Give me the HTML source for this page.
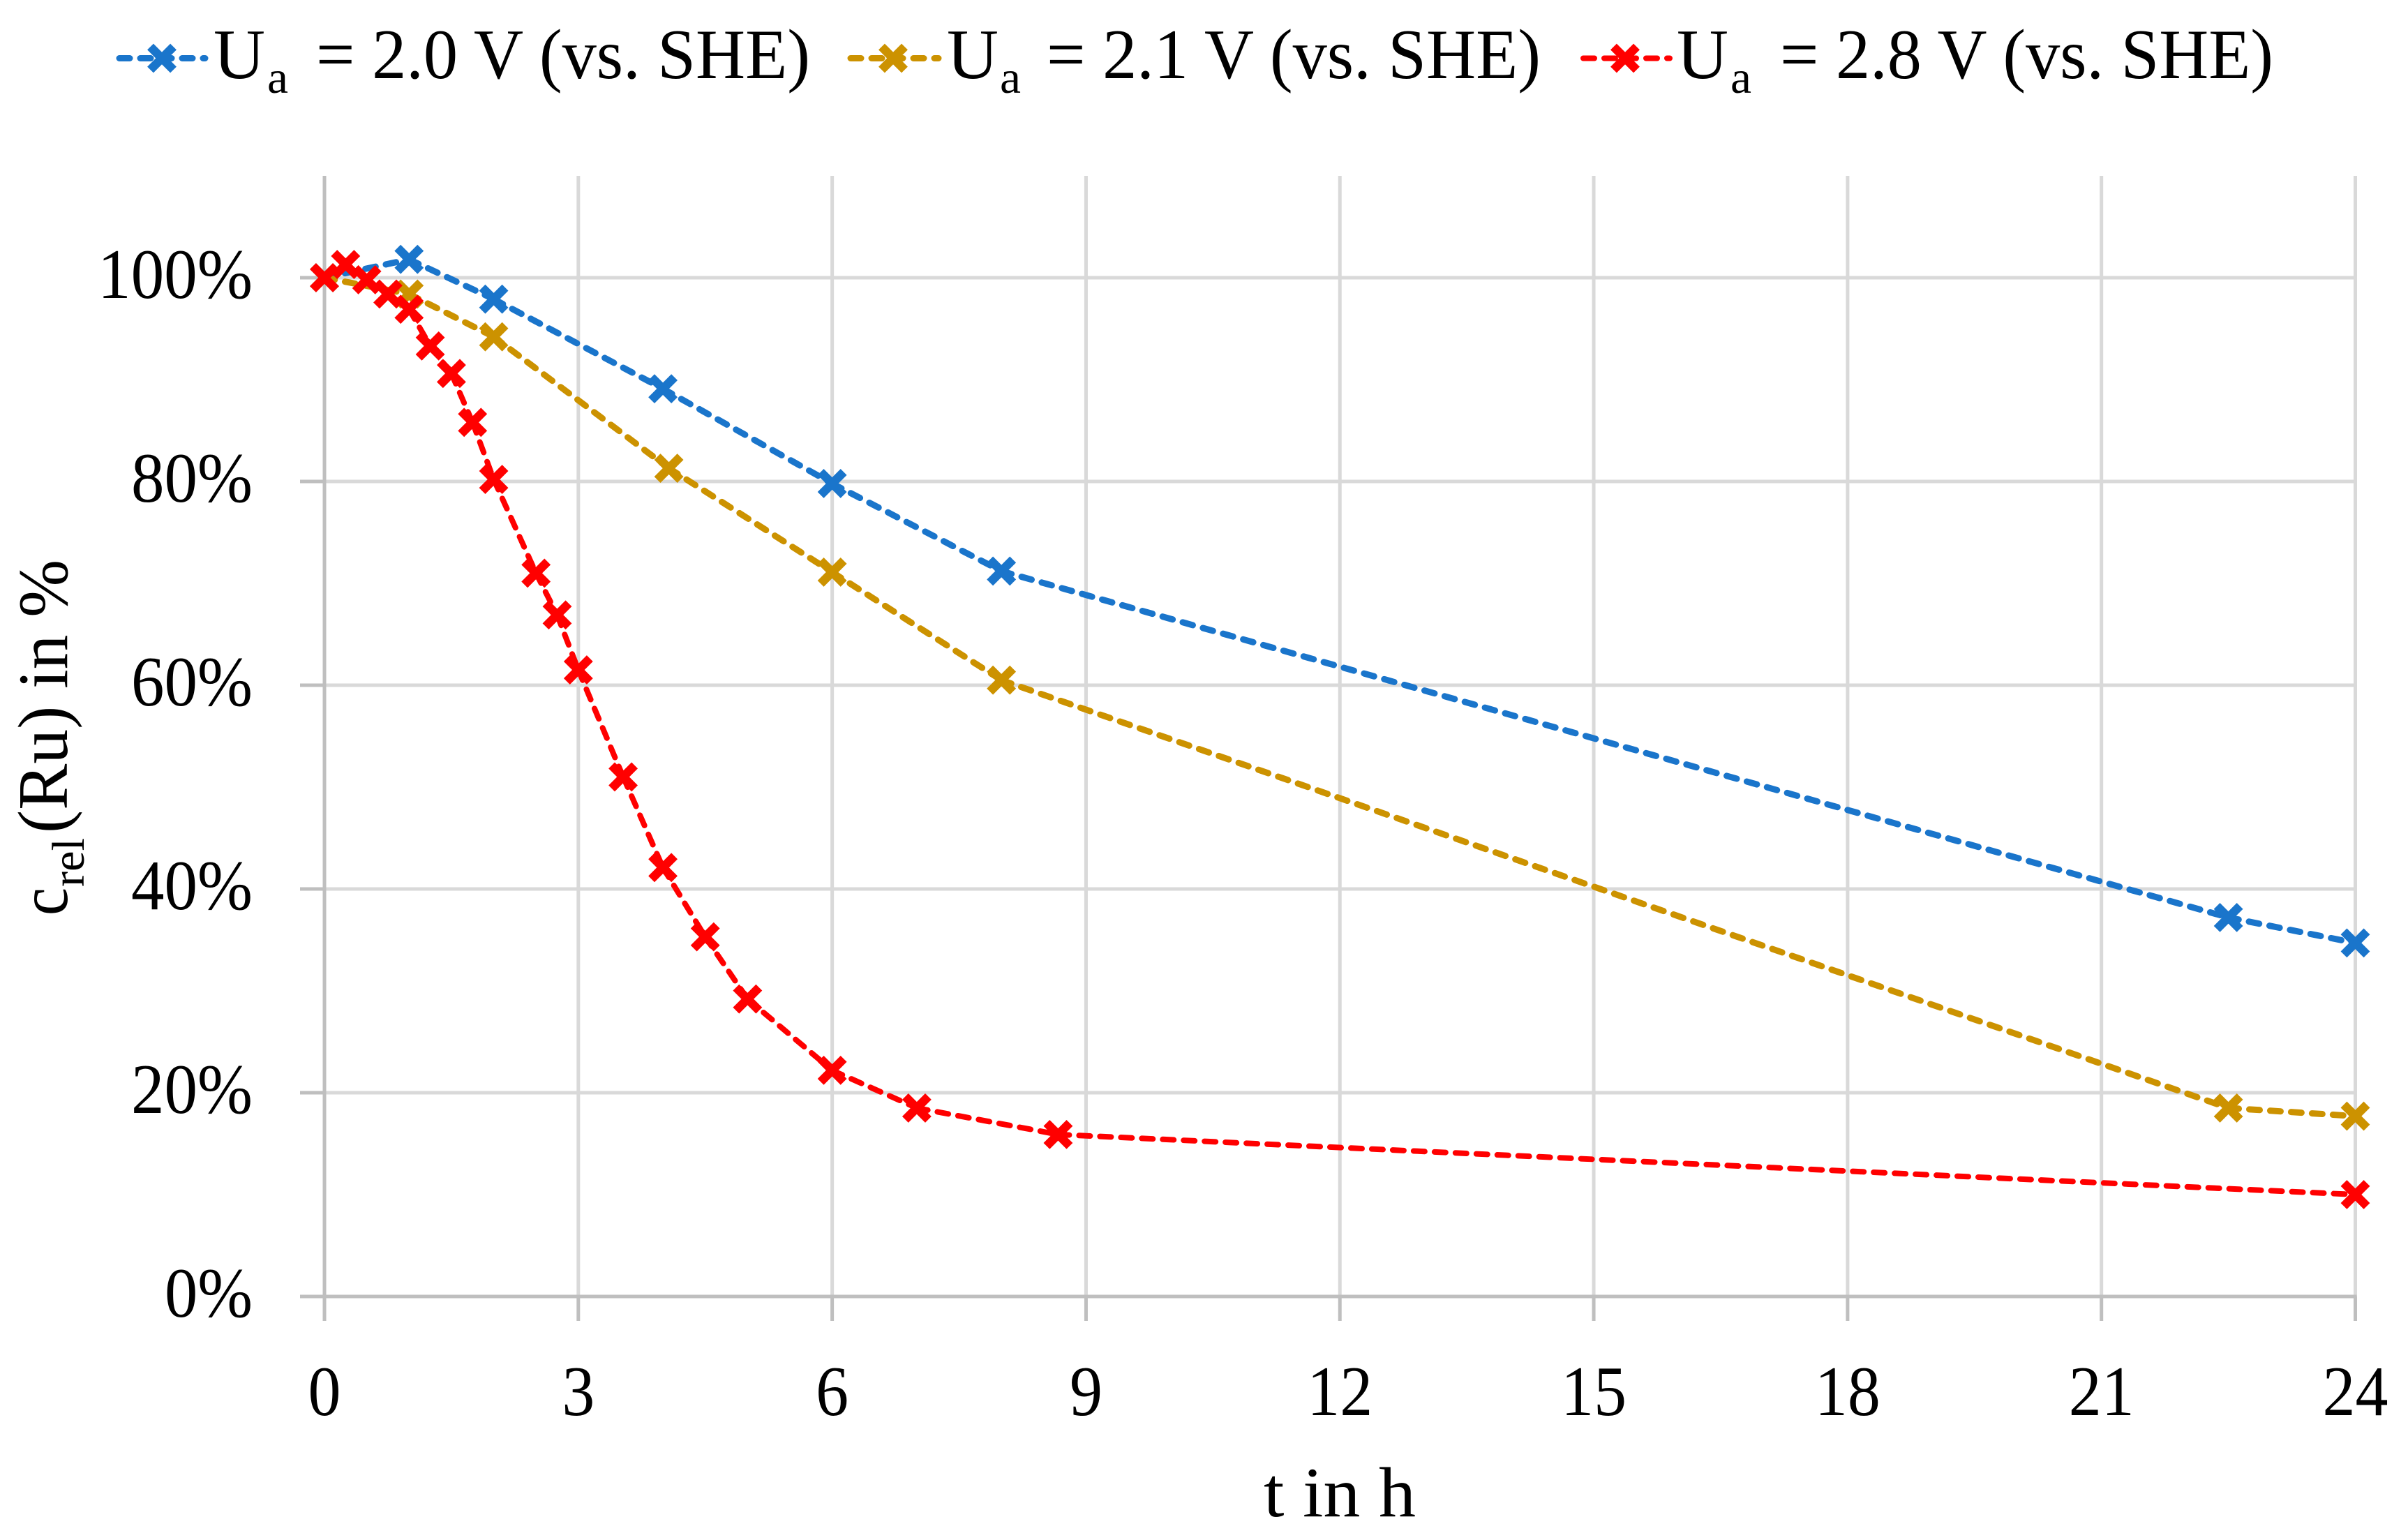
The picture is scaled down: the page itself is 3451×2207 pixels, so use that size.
<!DOCTYPE html>
<html>
<head>
<meta charset="utf-8">
<title>Relative Ru concentration over time</title>
<style>
  html, body { margin: 0; padding: 0; background: #fff; }
  svg { display: block; }
  text { font-family: "Liberation Serif", serif; fill: #000; }
</style>
</head>
<body>
<svg id="chart" xmlns="http://www.w3.org/2000/svg" width="3451" height="2207" viewBox="0 0 3451 2207">
  <rect x="0" y="0" width="3451" height="2207" fill="#ffffff"/>
  <g id="grid"></g>
  <g id="series"></g>
  <g id="tick-labels"></g>

  <g>
    <text transform="translate(96,1312) rotate(-90)" font-size="100" textLength="40" lengthAdjust="spacingAndGlyphs">c</text>
    <text transform="translate(120,1271) rotate(-90)" font-size="66" textLength="70" lengthAdjust="spacingAndGlyphs">rel</text>
    <text transform="translate(96,1194) rotate(-90)" font-size="102" textLength="392" lengthAdjust="spacingAndGlyphs">(Ru) in %</text>
  </g>
  <text x="1811" y="2173" font-size="102" textLength="218" lengthAdjust="spacingAndGlyphs">t in h</text>

  <g>
    <g id="legend-key-0">
      <text x="306" y="112" font-size="102" textLength="74" lengthAdjust="spacingAndGlyphs">U</text>
      <text x="383" y="133" font-size="66" textLength="30" lengthAdjust="spacingAndGlyphs">a</text>
      <text x="453" y="112" font-size="102" textLength="708" lengthAdjust="spacingAndGlyphs">= 2.0 V (vs. SHE)</text>
    </g>
    <g id="legend-key-1">
      <text x="1357" y="112" font-size="102" textLength="74" lengthAdjust="spacingAndGlyphs">U</text>
      <text x="1433" y="133" font-size="66" textLength="30" lengthAdjust="spacingAndGlyphs">a</text>
      <text x="1500" y="112" font-size="102" textLength="708" lengthAdjust="spacingAndGlyphs">= 2.1 V (vs. SHE)</text>
    </g>
    <g id="legend-key-2">
      <text x="2403" y="112" font-size="102" textLength="74" lengthAdjust="spacingAndGlyphs">U</text>
      <text x="2480" y="133" font-size="66" textLength="30" lengthAdjust="spacingAndGlyphs">a</text>
      <text x="2551" y="112" font-size="102" textLength="707" lengthAdjust="spacingAndGlyphs">= 2.8 V (vs. SHE)</text>
    </g>
  </g>
</svg>

<script>
// Chart data
const xTicks = [0, 3, 6, 9, 12, 15, 18, 21, 24];
const yTicks = [0, 20, 40, 60, 80, 100];

const timeBlue = [0, 1, 2, 4, 6, 8, 22.5, 24];
const valueBlue = [100, 101.8, 97.9, 89.1, 79.8, 71.2, 37.2, 34.7];

const timeGold = [0, 1, 2, 4.07, 6, 8, 22.5, 24];
const valueGold = [100, 98.4, 94.2, 81.3, 71.1, 60.5, 18.5, 17.7];

const timeRed = [0, 0.25, 0.5, 0.75, 1, 1.25, 1.5, 1.75, 2, 2.5, 2.75, 3, 3.53, 4, 4.5, 5, 6, 7, 8.67, 24];
const valueRed = [100, 101.3, 99.8, 98.4, 96.9, 93.3, 90.6, 85.8, 80.2, 71.0, 66.9, 61.5, 51.0, 42.1, 35.3, 29.2, 22.2, 18.5, 15.9, 10.0];

// Axis functions
const NS = 'http://www.w3.org/2000/svg';
const plotLeft = 465, plotRight = 3375.5, plotTop = 252, plotBottom = 1858, plotY100 = 398;
const xMax = 24, yMax = 100;
function xScale(t) { return plotLeft + t * (plotRight - plotLeft) / xMax; }
function yScale(v) { return plotBottom - v * (plotBottom - plotY100) / yMax; }

function makeLine(parent, x1, y1, x2, y2, stroke, width, dash, cap) {
  const l = document.createElementNS(NS, 'line');
  l.setAttribute('x1', x1);
  l.setAttribute('y1', y1);
  l.setAttribute('x2', x2);
  l.setAttribute('y2', y2);
  l.setAttribute('stroke', stroke);
  l.setAttribute('stroke-width', width);
  if (dash) l.setAttribute('stroke-dasharray', dash);
  if (cap) l.setAttribute('stroke-linecap', cap);
  parent.appendChild(l);
  return l;
}

function drawMarker(parent, cx, cy, color) {
  const g = document.createElementNS(NS, 'g');
  
  
  const a = 16.5, w = 12.5;
  makeLine(g, cx - a, cy - a, cx + a, cy + a, color, w);
  makeLine(g, cx - a, cy + a, cx + a, cy - a, color, w);
  parent.appendChild(g);
}

// Grid and axes
const gridLayer = document.getElementById('grid');
const gridColor = '#d9d9d9', axisColor = '#bfbfbf', gridWidth = 5;

yTicks.forEach(function (v) {
  const y = yScale(v);
  if (v !== 0) {
    const h = makeLine(gridLayer, plotLeft, y, plotRight, y, gridColor, gridWidth);
    
    
  }
});
xTicks.forEach(function (t) {
  const x = xScale(t);
  if (t !== 0) {
    const vl = makeLine(gridLayer, x, plotTop, x, plotBottom, gridColor, gridWidth);
    
    
  }
});
yTicks.forEach(function (v) {
  const y = yScale(v);
  const tk = makeLine(gridLayer, 430, y, plotLeft, y, axisColor, gridWidth);
  
  
});
xTicks.forEach(function (t) {
  const x = xScale(t);
  const tk = makeLine(gridLayer, x, plotBottom, x, 1893, axisColor, gridWidth);
  
  
});
const xAxisLine = makeLine(gridLayer, plotLeft, plotBottom, plotRight + 2, plotBottom, axisColor, gridWidth);


const yAxisLine = makeLine(gridLayer, plotLeft, plotTop, plotLeft, plotBottom, axisColor, gridWidth);



// Tick labels
const labelLayer = document.getElementById('tick-labels');
yTicks.forEach(function (v) {
  const s = v + '%';
  const t = document.createElementNS(NS, 'text');
  
  
  t.setAttribute('x', 362);
  t.setAttribute('y', yScale(v) + 29);
  t.setAttribute('text-anchor', 'end');
  t.setAttribute('font-size', 102);
  t.setAttribute('textLength', (s.length - 1) * 48 + 78);
  t.setAttribute('lengthAdjust', 'spacingAndGlyphs');
  t.textContent = s;
  labelLayer.appendChild(t);
});
xTicks.forEach(function (tick) {
  const s = String(tick);
  const t = document.createElementNS(NS, 'text');
  
  
  t.setAttribute('x', xScale(tick));
  t.setAttribute('y', 2028);
  t.setAttribute('text-anchor', 'middle');
  t.setAttribute('font-size', 102);
  t.setAttribute('textLength', s.length * 47);
  t.setAttribute('lengthAdjust', 'spacingAndGlyphs');
  t.textContent = s;
  labelLayer.appendChild(t);
});

// Series
const seriesLayer = document.getElementById('series');

function drawSeries(name, times, values, color, width, dash) {
  const g = document.createElementNS(NS, 'g');
  
  
  for (let i = 0; i < times.length - 1; i++) {
    const seg = makeLine(g, xScale(times[i]), yScale(values[i]), xScale(times[i + 1]), yScale(values[i + 1]), color, width, dash, 'round');
    
    
  }
  for (let i = 0; i < times.length; i++) {
    drawMarker(g, xScale(times[i]), yScale(values[i]), color);
  }
  seriesLayer.appendChild(g);
}

const colorBlue = '#1a75cb', colorGold = '#cc9200', colorRed = '#ff0000';
drawSeries('series-2-0-v', timeBlue, valueBlue, colorBlue, 9, '15 15');
drawSeries('series-2-1-v', timeGold, valueGold, colorGold, 9, '15 15');
drawSeries('series-2-8-v', timeRed, valueRed, colorRed, 8, '16 14');

// Legend keys
function drawLegendKey(groupId, x1, x2, cx, cy, color, width, dash) {
  const group = document.getElementById(groupId);
  const k = document.createElementNS(NS, 'g');
  
  
  makeLine(k, x1, cy, x2, cy, color, width, dash, 'round');
  drawMarker(k, cx, cy, color);
  group.insertBefore(k, group.firstChild);
}
drawLegendKey('legend-key-0', 171, 294, 232, 83.5, colorBlue, 9, '15 15');
drawLegendKey('legend-key-1', 1219, 1345, 1280, 83.5, colorGold, 9, '15 15');
drawLegendKey('legend-key-2', 2269, 2393, 2329, 83.5, colorRed, 8, '16 14');
</script>
</body>
</html>
